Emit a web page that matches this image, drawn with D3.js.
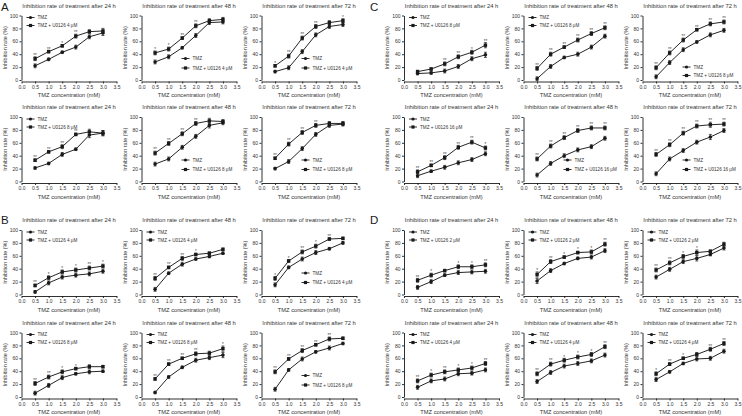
<!DOCTYPE html>
<html><head><meta charset="utf-8">
<script src="https://cdn.jsdelivr.net/npm/d3@7"></script>
<style>body{margin:0;background:#fff}svg{display:block}text{font-family:"Liberation Sans",Arial,sans-serif}</style>
</head><body><svg id="c" width="742" height="416"></svg>
<script>
// ---------- data ----------
const concentrations=[0.5,1.0,1.5,2.0,2.5,3.0];
const xTickValues=[0,0.5,1,1.5,2,2.5,3,3.5];
const yTickValues=[0,20,40,60,80,100];
const timepoints=["24 h","48 h","72 h"];
const panelLetters=["A","B","C","D"];

// Panel A, top row: TMZ + U0126 4 μM
const tmz_A1=[[22,32,43,51,67,73],[28,36,50,69,89,90],[13,19,44,70,83,86]];
const u0126_A1=[[33,44,53,68,75,76],[42,48,65,84,92,94],[22,37,65,83,89,92]];
const err_A1=[[3,2,2,3,3,4],[3,3,2,3,3,3],[2,3,3,3,3,3]];
const sig_A1=[["**","**","*","**","",""],["*","*","**","**","",""],["*","**","**","**","","*"]];
// Panel A, bottom row: 8 μM
const tmz_A2=[[21,28,42,50,72,75],[27,35,53,70,87,91],[20,31,51,73,87,89]];
const u0126_A2=[[33,46,54,73,77,75],[44,59,74,90,94,93],[36,58,76,87,90,90]];
const err_A2=[[2,2,3,2,4,4],[3,3,3,3,4,3],[2,3,3,3,3,3]];
const sig_A2=[["**","**","**","**","",""],["**","**","**","**","",""],["**","**","**","**","",""]];
// Panel B, top row: 4 μM
const tmz_B1=[[4,18,27,30,32,36],[8,33,47,55,59,64],[15,42,55,65,71,80]];
const u0126_B1=[[14,26,35,38,41,44],[25,42,56,62,64,70],[25,52,66,75,86,87]];
const err_B1=[[2,3,3,3,3,3],[3,2,3,2,2,2],[3,2,3,3,2,2]];
const sig_B1=[["**","*","*","*","**","*"],["**","**","**","*","",""],["*","*","**","*","**",""]];
// Panel B, bottom row: 8 μM
const tmz_B2=[[6,18,30,36,39,40],[7,31,46,57,61,65],[12,42,59,70,76,83]];
const u0126_B2=[[21,31,39,44,47,47],[28,51,60,67,68,75],[39,59,72,81,90,91]];
const err_B2=[[3,3,3,2,3,2],[2,2,2,3,3,4],[3,2,3,2,3,2]];
const sig_B2=[["**","**","*","*","",""],["**","**","**","**","","*"],["**","**","**","**","**",""]];
// Panel C, top row: 8 μM
const tmz_C1=[[10,11,14,21,33,39],[2,21,35,40,51,68],[5,27,47,59,70,77]];
const u0126_C1=[[13,17,25,36,43,54],[18,40,51,62,72,81],[19,42,62,78,87,90]];
const err_C1=[[2,2,3,3,3,4],[3,3,2,3,3,3],[3,3,3,2,3,3]];
const sig_C1=[["","","**","**","*","**"],["**","**","**","**","**","**"],["**","**","**","**","**","**"]];
// Panel C, bottom row: 16 μM
const tmz_C2=[[9,16,22,29,34,43],[10,28,40,49,54,67],[12,35,48,61,69,79]];
const u0126_C2=[[15,25,37,53,61,52],[35,55,68,79,83,83],[42,57,75,86,88,89]];
const err_C2=[[3,2,3,3,3,3],[3,3,3,3,3,3],[3,3,3,3,4,3]];
const sig_C2=[["**","**","**","**","**","*"],["**","**","**","**","**","**"],["**","**","**","**","**","**"]];
// Panel D, top row: 2 μM
const tmz_D1=[[11,20,30,34,35,36],[21,37,48,56,58,68],[27,39,51,56,62,72]];
const u0126_D1=[[22,30,37,43,43,46],[31,51,58,65,66,78],[38,49,59,65,67,78]];
const err_D1=[[3,3,2,3,3,3],[4,3,2,2,3,3],[3,3,3,4,2,3]];
const sig_D1=[["**","*","","*","*","**"],["*","**","*","*","*","**"],["**","**","*","*","",""]];
// Panel D, bottom row: 4 μM
const tmz_D2=[[15,25,28,36,37,42],[24,38,48,52,56,65],[27,39,52,59,60,71]];
const u0126_D2=[[25,34,39,42,45,52],[36,51,57,62,66,78],[36,51,60,66,74,83]];
const err_D2=[[3,3,3,3,3,3],[3,3,3,3,3,3],[3,2,2,3,3,3]];
const sig_D2=[["**","*","**","*","*","**"],["**","**","*","*","*","**"],["*","**","*","","**","**"]];

const doses=["4 μM","8 μM","4 μM","8 μM","8 μM","16 μM","2 μM","4 μM"];

// ---------- layout ----------
const rowTop=[15.5,117,230,332.5];
const plotH=64.5, plotW=95;
const colLeft=[[21.5,141.5,261.5],[404,523.5,642.5]];
const legendPos=[["tl","br","br"],["tl","br","br"],["tl","tl","br"],["tl","tl","br"],
                 ["tl","tl","brl"],["tl","br","br"],["tl","tl","tl"],["tl","tl","tl"]];
const blocks=[
 {p:0,r:0,side:0,tmz:tmz_A1,u:u0126_A1,err:err_A1,sig:sig_A1},
 {p:0,r:1,side:0,tmz:tmz_A2,u:u0126_A2,err:err_A2,sig:sig_A2},
 {p:1,r:2,side:0,tmz:tmz_B1,u:u0126_B1,err:err_B1,sig:sig_B1},
 {p:1,r:3,side:0,tmz:tmz_B2,u:u0126_B2,err:err_B2,sig:sig_B2},
 {p:2,r:0,side:1,tmz:tmz_C1,u:u0126_C1,err:err_C1,sig:sig_C1},
 {p:2,r:1,side:1,tmz:tmz_C2,u:u0126_C2,err:err_C2,sig:sig_C2},
 {p:3,r:2,side:1,tmz:tmz_D1,u:u0126_D1,err:err_D1,sig:sig_D1},
 {p:3,r:3,side:1,tmz:tmz_D2,u:u0126_D2,err:err_D2,sig:sig_D2}
];

const svg=d3.select("#c");
const ink="#1a1a1a";

// panel letters
const letterPos=[[1,10.5],[1,224],[370,10.5],[370,224]];
panelLetters.forEach((L,i)=>{
  svg.append("text").attr("x",letterPos[i][0]).attr("y",letterPos[i][1])
    .attr("font-size",11.5).attr("fill",ink).text(L);
});

blocks.forEach((b,bi)=>{
  for(let c=0;c<3;c++){
    const x0=colLeft[b.side][c], top=rowTop[b.r];
    const x=d3.scaleLinear().domain([0,3.5]).range([x0,x0+plotW]);
    const y=d3.scaleLinear().domain([0,100]).range([top+plotH,top]);
    const g=svg.append("g");
    // title
    g.append("text").attr("x",x0+plotW/2).attr("y",top-8).attr("text-anchor","middle")
      .attr("font-size",5.8).attr("fill","#333").text("Inhibition rate of treatment after "+timepoints[c]);
    // axes
    const ya=g.append("g").attr("transform",`translate(${x0},0)`)
      .call(d3.axisLeft(y).tickValues(yTickValues).tickSize(2).tickSizeOuter(0).tickPadding(1.5));
    const xa=g.append("g").attr("transform",`translate(0,${top+plotH+1.5})`)
      .call(d3.axisBottom(x).tickValues(xTickValues).tickFormat(d3.format(".1f")).tickSize(2).tickSizeOuter(0).tickPadding(1.5));
    [ya,xa].forEach(a=>{
      a.selectAll("path,line").attr("stroke",ink).attr("stroke-width",0.9);
      a.selectAll("text").attr("font-size",5).attr("fill","#333").attr("font-family","Liberation Sans, Arial, sans-serif");
    });
    // axis titles
    g.append("text").attr("transform",`translate(${x0-16.5},${top+plotH/2}) rotate(-90)`)
      .attr("text-anchor","middle").attr("dy","0.35em").attr("font-size",5.5).attr("fill","#333").text("Inhibition rate (%)");
    g.append("text").attr("x",x0+plotW/2).attr("y",top+plotH+17).attr("text-anchor","middle")
      .attr("font-size",5.7).attr("fill","#333").text("TMZ concentration (mM)");

    const series=[{vals:b.tmz[c],shape:"circle"},{vals:b.u[c],shape:"square"}];
    const line=d3.line().x((d,i)=>x(concentrations[i])).y(d=>y(d));
    series.forEach(s=>{
      g.append("path").datum(s.vals).attr("d",line).attr("fill","none").attr("stroke",ink).attr("stroke-width",0.95);
      s.vals.forEach((v,i)=>{
        const e=b.err[c][i], cx=x(concentrations[i]);
        g.append("line").attr("x1",cx).attr("x2",cx).attr("y1",y(v-e)).attr("y2",y(v+e)).attr("stroke",ink).attr("stroke-width",0.7);
        [v-e,v+e].forEach(w=>g.append("line").attr("x1",cx-1.5).attr("x2",cx+1.5).attr("y1",y(w)).attr("y2",y(w)).attr("stroke",ink).attr("stroke-width",0.7));
        if(s.shape==="circle") g.append("circle").attr("cx",cx).attr("cy",y(v)).attr("r",1.8).attr("fill",ink);
        else g.append("rect").attr("x",cx-1.7).attr("y",y(v)-1.7).attr("width",3.4).attr("height",3.4).attr("fill",ink);
      });
    });
    // significance marks
    b.sig[c].forEach((s,i)=>{
      if(!s) return;
      const top2=Math.max(b.tmz[c][i],b.u[c][i])+b.err[c][i];
      g.append("text").attr("x",x(concentrations[i])).attr("y",y(top2)+0.2).attr("text-anchor","middle")
        .attr("font-size",4.5).attr("fill","#444").text(s);
    });
    // legend
    const lp=legendPos[bi][c];
    let lx,ly1,ly2;
    if(lp==="tl"){lx=x0+5;ly1=top+2;ly2=top+10;}
    else if(lp==="br"){lx=x0+40;ly1=top+43;ly2=top+52.5;}
    else {lx=x0+40;ly1=top+51.5;ly2=top+60;}
    const labels=["TMZ","TMZ + U0126 "+doses[bi]];
    [ly1,ly2].forEach((ly,k)=>{
      g.append("line").attr("x1",lx).attr("x2",lx+8).attr("y1",ly).attr("y2",ly).attr("stroke",ink).attr("stroke-width",0.9);
      if(k===0) g.append("circle").attr("cx",lx+4).attr("cy",ly).attr("r",1.6).attr("fill",ink);
      else g.append("rect").attr("x",lx+2.4).attr("y",ly-1.6).attr("width",3.2).attr("height",3.2).attr("fill",ink);
      g.append("text").attr("x",lx+11).attr("y",ly).attr("dy","0.35em").attr("font-size",4.6).attr("fill","#333").text(labels[k]);
    });
  }
});
</script></body></html>
